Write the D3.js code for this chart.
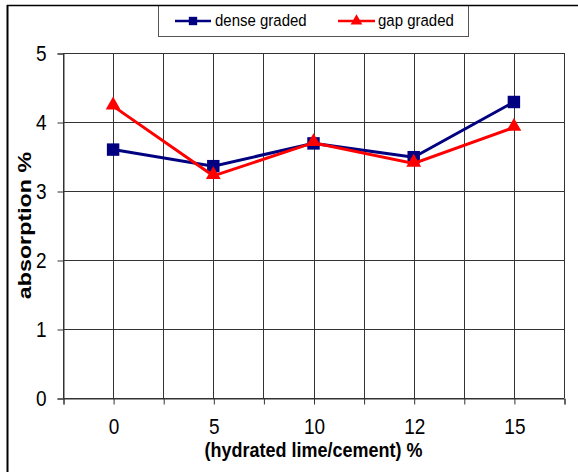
<!DOCTYPE html>
<html>
<head>
<meta charset="utf-8">
<script src="https://cdn.jsdelivr.net/npm/d3@7"></script>
<style>
  html, body { margin: 0; padding: 0; background: #fff; }
  svg { display: block; font-family: "Liberation Sans", Arial, sans-serif; }
</style>
</head>
<body>
<svg id="chart" width="578" height="472"></svg>
<script>
// Lime/cement content categories and absorption results
const categories = ["0", "5", "10", "12", "15"];
const denseGraded = [3.60, 3.36, 3.69, 3.49, 4.29];
const gapGraded = [4.23, 3.22, 3.70, 3.40, 3.92];
const yTicks = [0, 1, 2, 3, 4, 5];
const seriesNames = ["dense graded", "gap graded"];

const svg = d3.select("#chart");
const plot = { left: 63, right: 564, top: 53, bottom: 398 };

// Category i sits at the middle of slot [i, i+1]
const x = d3.scaleLinear().domain([0, categories.length]).range([plot.left, plot.right]);
const y = d3.scaleLinear().domain([0, 5]).range([plot.bottom, plot.top]);
const cx = i => x(i + 0.5);

// Outer frame (left and top edges)
svg.append("line").attr("x1", 7.5).attr("x2", 7.5).attr("y1", 5).attr("y2", 472)
  .attr("stroke", "#000").attr("stroke-width", 2);

// Grid
const grid = svg.append("g").attr("stroke", "#333").attr("stroke-width", 1);
grid.selectAll("line.h").data(yTicks).join("line")
  .attr("x1", plot.left).attr("x2", plot.right)
  .attr("y1", d => Math.round(y(d)) + 0.5).attr("y2", d => Math.round(y(d)) + 0.5);
const vSteps = d3.range(0, categories.length + 0.25, 0.5);
grid.selectAll("line.v").data(vSteps).join("line")
  .attr("x1", d => Math.round(x(d)) + 0.5).attr("x2", d => Math.round(x(d)) + 0.5)
  .attr("y1", plot.top).attr("y2", plot.bottom);

// Y axis
const yAxis = d3.axisLeft(y).tickValues(yTicks).tickSize(6).tickPadding(11).tickFormat(d3.format("d"));
const gy = svg.append("g").attr("transform", `translate(${plot.left + 0.5},0.5)`).call(yAxis);
gy.select(".domain").attr("stroke", "#333");
gy.selectAll(".tick line").attr("stroke", "#333");
gy.selectAll(".tick text")
  .attr("font-size", 19).attr("fill", "#000")
  .attr("font-family", "Liberation Sans, Arial, sans-serif")
  .attr("transform", "scale(1,1.2)").attr("dy", "0.3em");

// X axis: ticks at slot edges and centres, labels at centres
const xAxis = d3.axisBottom(x).tickValues(vSteps).tickSize(6).tickPadding(22)
  .tickFormat(d => (d % 1 !== 0 ? categories[Math.floor(d)] : ""));
const gx = svg.append("g").attr("transform", `translate(0.5,${plot.bottom + 0.5})`).call(xAxis);
gx.select(".domain").attr("stroke", "#333");
gx.selectAll(".tick line").attr("stroke", "#333");
gx.selectAll(".tick text")
  .attr("font-size", 19).attr("fill", "#000")
  .attr("font-family", "Liberation Sans, Arial, sans-serif")
  .attr("transform", "scale(1,1.2)").attr("dy", "0.1em");

// Axis titles
svg.append("text")
  .attr("transform", `translate(${(plot.left + plot.right) / 2},457) scale(1,1.15)`)
  .attr("text-anchor", "middle").attr("font-size", 18).attr("font-weight", "bold")
  .text("(hydrated lime/cement) %");
svg.append("text")
  .attr("transform", `translate(31,${(plot.top + plot.bottom) / 2}) scale(1,1.33) rotate(-90)`)
  .attr("text-anchor", "middle").attr("font-size", 17.5).attr("font-weight", "bold")
  .text("absorption %");

// Series
const line = d3.line().x((d, i) => cx(i)).y(d => y(d));
const square = d3.symbol().type(d3.symbolSquare).size(155);
const triangle = d3.symbol().type(d3.symbolTriangle).size(95);

svg.append("path").datum(denseGraded).attr("d", line)
  .attr("fill", "none").attr("stroke", "#000080").attr("stroke-width", 3);
svg.append("g").selectAll("path").data(denseGraded).join("path")
  .attr("d", square).attr("fill", "#000080")
  .attr("transform", (d, i) => `translate(${cx(i)},${y(d)})`);

svg.append("path").datum(gapGraded).attr("d", line)
  .attr("fill", "none").attr("stroke", "#ff0000").attr("stroke-width", 3);
svg.append("g").selectAll("path").data(gapGraded).join("path")
  .attr("d", triangle).attr("fill", "#ff0000")
  .attr("transform", (d, i) => `translate(${cx(i)},${y(d) - 1})`);

// Legend
const legend = svg.append("g");
legend.append("rect").attr("x", 158.5).attr("y", 5.5).attr("width", 310).attr("height", 31)
  .attr("fill", "#fff").attr("stroke", "#555").attr("stroke-width", 1);
svg.append("line").attr("x1", 7).attr("x2", 578).attr("y1", 5.5).attr("y2", 5.5)
  .attr("stroke", "#000").attr("stroke-width", 1.5);
const items = [
  { name: seriesNames[0], color: "#000080", sym: d3.symbol().type(d3.symbolSquare).size(70), x0: 175, x1: 211, tx: 215 },
  { name: seriesNames[1], color: "#ff0000", sym: d3.symbol().type(d3.symbolTriangle).size(60), x0: 338, x1: 375, tx: 378 }
];
const li = legend.selectAll("g.item").data(items).join("g");
li.append("line").attr("x1", d => d.x0).attr("x2", d => d.x1).attr("y1", 21).attr("y2", 21)
  .attr("stroke", d => d.color).attr("stroke-width", 2.5);
li.append("path").attr("d", d => d.sym()).attr("fill", d => d.color)
  .attr("transform", d => `translate(${(d.x0 + d.x1) / 2},21)`);
li.append("text").attr("transform", d => `translate(${d.tx},26) scale(1,1.15)`)
  .attr("font-size", 15).attr("fill", "#000").text(d => d.name);
</script>
</body>
</html>
